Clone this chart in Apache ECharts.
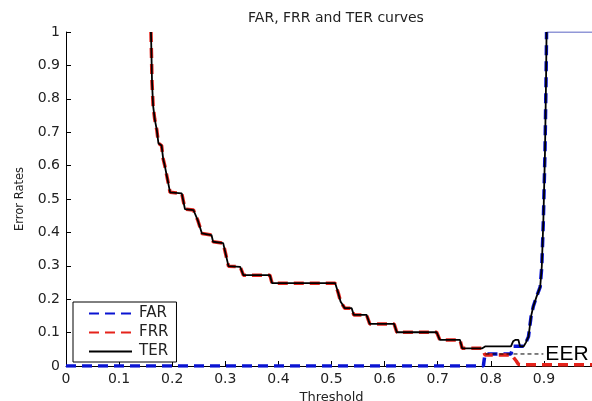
<!DOCTYPE html>
<html>
<head>
<meta charset="utf-8">
<script src="https://cdn.jsdelivr.net/npm/echarts@6/dist/echarts.min.js"></script>
<style>
  html, body { margin: 0; padding: 0; background: #fff; }
  #chart { width: 592px; height: 401px; }
</style>
</head>
<body>
<div id="chart"></div>
<script>
// Threshold sweep: false acceptance, false rejection and total error rates
const xTicks = [0, 0.1, 0.2, 0.3, 0.4, 0.5, 0.6, 0.7, 0.8, 0.9, 1];
const yTicks = [0, 0.1, 0.2, 0.3, 0.4, 0.5, 0.6, 0.7, 0.8, 0.9, 1];

const farX = [0.000, 0.786, 0.789, 0.838, 0.842, 0.862, 0.866, 0.871, 0.876, 0.880, 0.886, 0.893, 0.896, 0.899, 0.902, 0.904, 0.905];
const farY = [0.000, 0.000, 0.036, 0.036, 0.059, 0.059, 0.070, 0.088, 0.150, 0.178, 0.207, 0.237, 0.297, 0.437, 0.637, 0.850, 1.000];

const farTailX = [0.905, 1.000];
const farTailY = [1.000, 1.000];

const frrX = [0.160, 0.161, 0.162, 0.164, 0.167, 0.171, 0.174, 0.180, 0.183, 0.186, 0.191, 0.196, 0.218, 0.224, 0.240, 0.248, 0.256, 0.274, 0.277, 0.296, 0.306, 0.328, 0.334, 0.384, 0.388, 0.507, 0.513, 0.517, 0.525, 0.538, 0.542, 0.566, 0.572, 0.618, 0.623, 0.698, 0.704, 0.742, 0.746, 0.784, 0.789, 0.839, 0.848, 0.852, 0.861, 1.000];
const frrY = [1.000, 0.930, 0.850, 0.780, 0.740, 0.707, 0.667, 0.660, 0.620, 0.600, 0.560, 0.520, 0.517, 0.470, 0.467, 0.437, 0.397, 0.392, 0.372, 0.368, 0.299, 0.297, 0.272, 0.272, 0.248, 0.248, 0.217, 0.193, 0.173, 0.173, 0.153, 0.153, 0.126, 0.126, 0.101, 0.101, 0.078, 0.078, 0.053, 0.053, 0.033, 0.033, 0.015, 0.005, 0.004, 0.004];

const terX = [0.160, 0.161, 0.162, 0.164, 0.167, 0.171, 0.174, 0.180, 0.183, 0.186, 0.191, 0.196, 0.218, 0.224, 0.240, 0.248, 0.256, 0.274, 0.277, 0.296, 0.306, 0.328, 0.334, 0.384, 0.388, 0.507, 0.513, 0.517, 0.525, 0.538, 0.542, 0.566, 0.572, 0.618, 0.623, 0.698, 0.704, 0.742, 0.746, 0.784, 0.786, 0.790, 0.838, 0.842, 0.846, 0.852, 0.855, 0.862, 0.866, 0.871, 0.876, 0.880, 0.886, 0.893, 0.896, 0.899, 0.902, 0.904, 0.905];
const terY = [1.000, 0.930, 0.850, 0.780, 0.740, 0.707, 0.667, 0.660, 0.620, 0.600, 0.560, 0.520, 0.517, 0.470, 0.467, 0.437, 0.397, 0.392, 0.372, 0.368, 0.299, 0.297, 0.272, 0.272, 0.248, 0.248, 0.217, 0.193, 0.173, 0.173, 0.153, 0.153, 0.126, 0.126, 0.101, 0.101, 0.078, 0.078, 0.053, 0.053, 0.053, 0.059, 0.059, 0.074, 0.078, 0.078, 0.059, 0.059, 0.070, 0.088, 0.150, 0.178, 0.207, 0.237, 0.297, 0.437, 0.637, 0.850, 1.000];

// Equal error rate marker
const eerX = [0.790, 0.899];
const eerY = [0.036, 0.036];
const eerText = 'EER';

const seriesNames = ['FAR', 'FRR', 'TER'];

function pairs(xs, ys) { return xs.map((x, i) => [x, ys[i]]); }

const FONT = 'DejaVu Sans';
const BLUE = '#0a14d2';
const RED = '#e5231b';

const chart = echarts.init(document.getElementById('chart'), null, { renderer: 'canvas' });

chart.setOption({
  animation: false,
  backgroundColor: '#ffffff',
  title: {
    text: 'FAR, FRR and TER curves',
    left: 331, top: 6, textAlign: 'center',
    textStyle: { fontFamily: FONT, fontSize: 14, fontWeight: 'normal', color: '#222' }
  },
  grid: { left: 66, top: 32, width: 531, height: 334, outerBoundsMode: 'none' },
  legend: {
    data: seriesNames,
    orient: 'vertical',
    left: 73, top: 302,
    padding: [4, 8, 3, 15],
    itemWidth: 43, itemHeight: 14, itemGap: 4,
    borderColor: '#000', borderWidth: 1,
    backgroundColor: '#fff',
    itemStyle: { opacity: 0 },
    textStyle: { fontFamily: FONT, fontSize: 15, color: '#222', padding: [0, 0, 0, 2] }
  },
  xAxis: {
    type: 'value', min: xTicks[0], max: xTicks[xTicks.length - 1], interval: 0.1,
    name: 'Threshold', nameLocation: 'middle', nameGap: 18,
    nameTextStyle: { fontFamily: FONT, fontSize: 13, color: '#222' },
    axisLine: { lineStyle: { color: '#000', width: 1 } },
    axisTick: { inside: true, length: 5, lineStyle: { color: '#000' } },
    axisLabel: { fontFamily: FONT, fontSize: 14, color: '#222', margin: 6 },
    splitLine: { show: false }
  },
  yAxis: {
    type: 'value', min: yTicks[0], max: yTicks[yTicks.length - 1], interval: 0.1,
    name: 'Error Rates', nameLocation: 'middle', nameGap: 40, nameRotate: 90,
    nameTextStyle: { fontFamily: FONT, fontSize: 11.5, color: '#222' },
    axisLine: { show: true, lineStyle: { color: '#000', width: 1 } },
    axisTick: { show: true, inside: true, length: 5, lineStyle: { color: '#000' } },
    axisLabel: { fontFamily: FONT, fontSize: 14, color: '#222', margin: 6 },
    splitLine: { show: false }
  },
  series: [
    {
      name: 'FAR', type: 'line', data: pairs(farX, farY), symbol: 'none', z: 2,
      color: BLUE,
      lineStyle: { color: BLUE, width: 3.5, type: [10, 6] }
    },
    {
      name: 'FAR_tail', type: 'line', data: pairs(farTailX, farTailY), symbol: 'none', z: 2,
      lineStyle: { color: '#2430b0', width: 1 }, silent: true
    },
    {
      name: 'FRR', type: 'line', data: pairs(frrX, frrY), symbol: 'none', z: 3,
      color: RED,
      lineStyle: { color: RED, width: 3.5, type: [10, 6] }
    },
    {
      name: 'TER', type: 'line', data: pairs(terX, terY), symbol: 'none', z: 4,
      color: '#000',
      lineStyle: { color: '#000', width: 1.8 }
    },
    {
      name: 'EER', type: 'line', data: pairs(eerX, eerY), symbol: 'none', z: 5,
      lineStyle: { color: '#000', width: 1, type: [4, 3] },
      endLabel: {
        show: true, formatter: eerText, distance: 2,
        fontFamily: 'Liberation Sans', fontSize: 21, color: '#000'
      }
    }
  ]
});
</script>
</body>
</html>
